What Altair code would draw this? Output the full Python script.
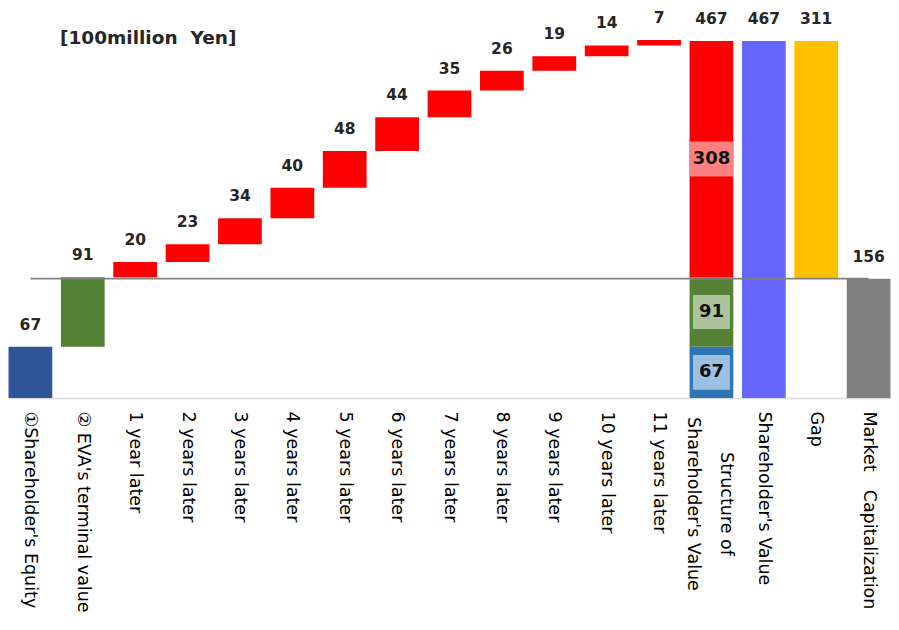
import altair as alt
import pandas as pd

# ---------------- data ----------------
categories = [
    "①Shareholder's Equity",
    "② EVA's terminal value",
    "1 year later", "2 years later", "3 years later", "4 years later",
    "5 years later", "6 years later", "7 years later", "8 years later",
    "9 years later", "10 years later", "11 years later",
    "Structure of Shareholder's Value",
    "Shareholder's Value",
    "Gap",
    "Market\u3000Capitalization",
]
equity = 67
terminal_value = 91
yearly_eva = [20, 23, 34, 40, 48, 44, 35, 26, 19, 14, 7]
structure_parts = [67, 91, 308]
structure_total = 467
shareholder_value = 467
gap = 311
market_cap = 156
unit_label = "[100million\u00a0\u00a0Yen]"
structure_lines = ["Structure of", "Shareholder's Value"]

# ---------------- styles ----------------
C_EQUITY = "#2F5597"
C_GREEN = "#548235"
C_RED = "#FF0000"
C_SBLUE = "#2E75B6"
C_SV = "#6666FF"
C_GAP = "#FFC000"
C_MC = "#808080"
struct_colors = [C_SBLUE, C_GREEN, C_RED]
box_colors = ["#9DC0E2", "#ABC39D", "#FF8080"]
box_shapes = [
    "M-1.043,-0.985H1.043V0.985H-1.043Z",
    "M-1.043,-0.958H1.043V0.958H-1.043Z",
    "M-1.239,-0.986H1.239V0.986H-1.239Z",
]
LABEL_FONT = "DejaVu Sans"
LABEL_SIZE = 17.5

W, H = 883, 390

# ---------------- build tables ----------------
bars, tops, inner = [], [], []
bars.append(dict(cat=categories[0], start=0, end=equity, color=C_EQUITY))
tops.append(dict(cat=categories[0], y=equity, text=str(equity)))
run = equity
bars.append(dict(cat=categories[1], start=run, end=run + terminal_value, color=C_GREEN))
tops.append(dict(cat=categories[1], y=run + terminal_value, text=str(terminal_value)))
run += terminal_value
for i, v in enumerate(yearly_eva):
    c = categories[2 + i]
    bars.append(dict(cat=c, start=run, end=run + v, color=C_RED))
    tops.append(dict(cat=c, y=run + v, text=str(v)))
    run += v

s = 0
for i, part in enumerate(structure_parts):
    c = categories[13]
    e = structure_total if i == len(structure_parts) - 1 else s + part
    bars.append(dict(cat=c, start=s, end=e, color=struct_colors[i]))
    inner.append(dict(cat=c, mid=(s + e) / 2, text=str(part),
                      box=box_colors[i], shape=box_shapes[i]))
    s = e
tops.append(dict(cat=categories[13], y=structure_total, text=str(structure_total)))

bars.append(dict(cat=categories[14], start=0, end=shareholder_value, color=C_SV))
tops.append(dict(cat=categories[14], y=shareholder_value, text=str(shareholder_value)))
bars.append(dict(cat=categories[15], start=market_cap, end=market_cap + gap, color=C_GAP))
tops.append(dict(cat=categories[15], y=market_cap + gap, text=str(gap)))
bars.append(dict(cat=categories[16], start=0, end=market_cap, color=C_MC))
tops.append(dict(cat=categories[16], y=market_cap, text=str(market_cap)))

bars_df = pd.DataFrame(bars)
tops_df = pd.DataFrame(tops)
inner_df = pd.DataFrame(inner)
rule_df = pd.DataFrame([dict(cat=categories[0], b=categories[-1], y=market_cap)])
struct_label_df = pd.DataFrame([dict(cat=categories[13], text=structure_lines)])
title_df = pd.DataFrame([dict(text=unit_label)])

xscale = alt.Scale(domain=categories, paddingInner=0.165, paddingOuter=0.01, round=False)
yscale = alt.Scale(domain=[0, 510], nice=False, zero=True)

x_axis = alt.Axis(
    title=None, labelAngle=90, labelAlign="left", labelBaseline="middle",
    labelPadding=13, ticks=False, domainColor="#D9D9D9", domainWidth=1.5,
    labelFont=LABEL_FONT, labelFontSize=LABEL_SIZE, labelColor="#000000",
    labelOverlap=False, labelLimit=400, grid=False,
    labelExpr="indexof(datum.value, 'Structure') == 0 ? '' : datum.value",
)


def X():
    return alt.X("cat:N", sort=categories, scale=xscale, axis=x_axis)


bar_layer = alt.Chart(bars_df).mark_bar().encode(
    x=X(),
    y=alt.Y("start:Q", scale=yscale, axis=None),
    y2="end:Q",
    color=alt.Color("color:N", scale=None),
)

top_layer = alt.Chart(tops_df).mark_text(
    dy=-22, font="DejaVu Sans", fontSize=15.5, fontWeight="bold",
    color="#262626", baseline="middle", align="center",
).encode(
    x=X(),
    y=alt.Y("y:Q", scale=yscale, axis=None),
    text="text:N",
)

box_layer = alt.Chart(inner_df).mark_point(
    filled=True, opacity=1, strokeWidth=0, size=1260,
).encode(
    x=X(),
    y=alt.Y("mid:Q", scale=yscale, axis=None),
    color=alt.Color("box:N", scale=None),
    shape=alt.Shape("shape:N", scale=None),
)

inner_text = alt.Chart(inner_df).mark_text(
    font="DejaVu Sans", fontSize=18, fontWeight="bold", color="#111111",
    baseline="middle", align="center",
).encode(
    x=X(),
    y=alt.Y("mid:Q", scale=yscale, axis=None),
    text="text:N",
)

rule_layer = alt.Chart(rule_df).mark_rule(color="#808080", strokeWidth=1.8).encode(
    x=X(),
    x2="b:N",
    y=alt.Y("y:Q", scale=yscale, axis=None),
)

struct_label = alt.Chart(struct_label_df).mark_text(
    angle=90, align="center", baseline="middle", lineHeight=33, dy=-15,
    font=LABEL_FONT, fontSize=LABEL_SIZE, color="#000000",
).encode(
    x=X(),
    y=alt.value(H + 106),
    text="text",
)

title_layer = alt.Chart(title_df).mark_text(
    align="left", baseline="middle", font="DejaVu Sans", fontSize=18.5,
    fontWeight="bold", color="#262626",
).encode(
    x=alt.value(52), y=alt.value(30), text="text:N",
)

chart = alt.layer(
    bar_layer, rule_layer, top_layer, box_layer, inner_text, struct_label, title_layer
).properties(
    width=W, height=H,
    autosize=alt.AutoSizeParams(type="none"),
    padding={"left": 0, "top": 0, "right": 0, "bottom": 224},
    background="white",
).configure_view(stroke=None)

chart.save("out.html", embed_options={"renderer": "svg", "actions": False})
